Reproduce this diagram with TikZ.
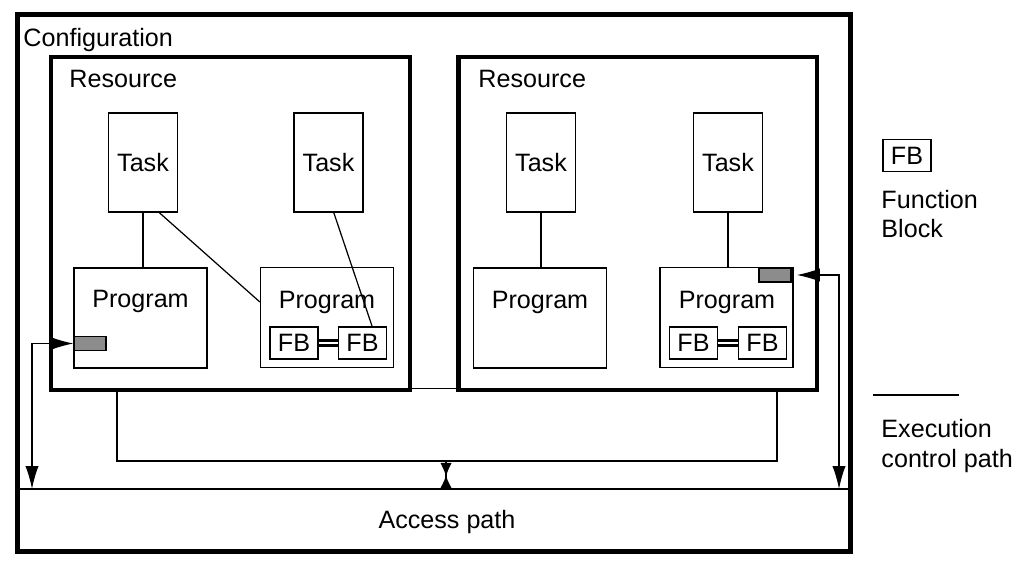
\documentclass[tikz,border=0pt]{standalone}
\usepackage{fontspec}
\setmainfont{Liberation Sans}
\usetikzlibrary{arrows.meta}

\begin{document}
\begin{tikzpicture}[x=0.02cm, y=-0.02cm, line width=0.7pt,
		every node/.style={font=\fontsize{14.3}{17}\selectfont},
		bigbox/.style={draw, line width=2.8pt},
		box/.style={draw, line width=0.75pt, inner sep=0pt},
		task/.style={box, minimum width=1.38cm, minimum height=1.98cm},
		prog/.style={box, minimum width=2.66cm, minimum height=2cm},
		fb/.style={box, minimum width=0.96cm, minimum height=0.64cm},
		ctrlbox/.style={draw, line width=0.75pt, fill=black!45, minimum width=0.64cm, minimum height=0.28cm, inner sep=0pt},
		ctrl/.style={{Latex[length=13pt,width=7.5pt]}-{Latex[length=13pt,width=7.5pt]}}]
		\useasboundingbox (0,0) rectangle (1024,570);
		\node[bigbox, minimum width=16.68cm, minimum height=10.76cm] (conf) at (434,283) {};
		\node[right] (confl) at (17,40) {Configuration};
		\node[bigbox, minimum width=7.18cm, minimum height=6.66cm] (r1) at (230.5,223.5) {};
		\node[bigbox, minimum width=7.18cm, minimum height=6.66cm] (r2) at (637.5,223.5) {};
		\node[right] (r1l) at (63,79) {Resource};
		\node[right] (r2l) at (472,79) {Resource};
		\node[task] (t1) at (143,162.5) {Task};
		\node[task] (t2) at (328.5,162.5) {Task};
		\node[task] (t3) at (541,162.5) {Task};
		\node[task] (t4) at (728,162.5) {Task};
		\node[prog] (p1) at (140.5,318) {};
		\node[prog] (p2) at (327,317.5) {};
		\node[prog] (p3) at (540,318) {};
		\node[prog] (p4) at (726.5,317.5) {};
		\node (p1l) at (140.5,301) {Program};
		\node (p2l) at (327,302) {Program};
		\node (p3l) at (540,302) {Program};
		\node (p4l) at (727,302) {Program};
		\node[fb] (f21) at (294,343) {FB};
		\node[fb] (f22) at (362.5,343) {FB};
		\node[fb] (f41) at (693.5,343) {FB};
		\node[fb] (f42) at (762.5,343) {FB};
		\draw[double, double distance=1.4pt, line width=1.3pt] (f21) -- (f22);
		\draw[double, double distance=1.4pt, line width=1.3pt] (f41) -- (f42);
		\node[ctrlbox] (c1) at (90,343.5) {};
		\node[ctrlbox] (c4) at (775,275) {};
		\draw (t1.south) -- (t1.south |- p1.north);
		\draw (t1.-72) -- (p2.167);
		\draw (t2.-84) -- (f22.60);
		\draw (t3.south) -- (t3.south |- p3.north);
		\draw (t4.south) -- (t4.south |- p4.north);
		\coordinate (aL) at (17,489);
		\coordinate (aR) at (851,489);
		\draw (aL) -- (aR);
		\node (acc) at (447,522) {Access path};
		\coordinate (a1) at (32,489);
		\coordinate (a4) at (839,489);
		\draw[ctrl] (c1.west) -| (a1);
		\draw[ctrl, shorten <=3pt] (c4.east) -| (a4);
		\draw ([yshift=2.3pt]r1.south east) -- ([yshift=2.3pt]r2.south west);
		\coordinate (u1) at (117,390);
		\coordinate (u2) at (777,390);
		\coordinate (ub) at (446,461);
		\draw (u1) |- (ub) -| (u2);
		\draw (ub) -- (446,489);
		\fill (440.5,463) .. controls (447,476) .. (440.5,488) -- (451.5,488) .. controls (445,476) .. (451.5,463) -- cycle;
		\node[fb] (lfb) at (907,155.5) {FB};
		\node[right, align=left] (lfbl) at (875,214) {Function\\Block};
		\coordinate (l1) at (873,395);
		\coordinate (l2) at (959,395);
		\draw (l1) -- (l2);
		\node[right, align=left] (lecl) at (875,446) {Execution\\control path};
	\end{tikzpicture}
\end{document}
